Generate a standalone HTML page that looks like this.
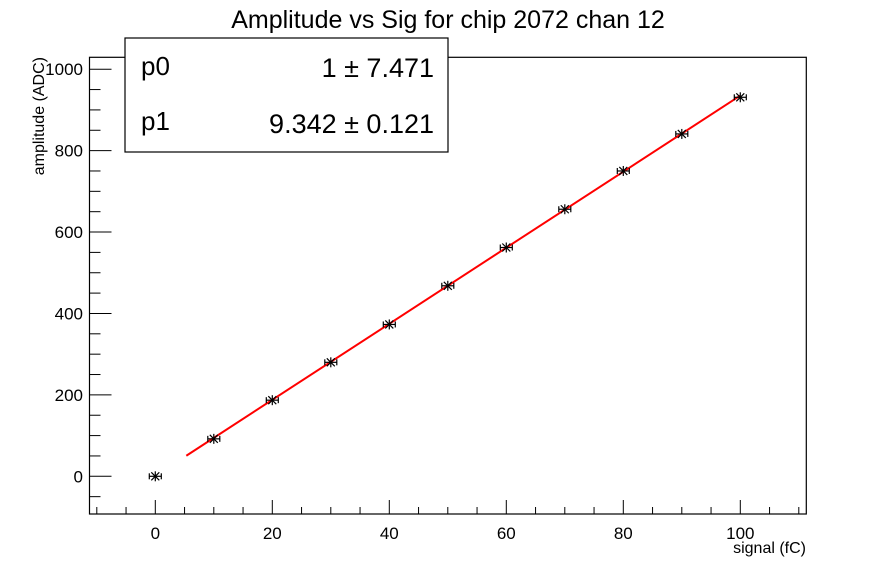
<!DOCTYPE html>
<html><head><meta charset="utf-8"><style>
body{margin:0;background:#fff;}
svg text{font-family:"Liberation Sans",sans-serif;}
</style></head><body>
<svg id="c" width="896" height="572" xmlns="http://www.w3.org/2000/svg"></svg>
<script>
const xs=[0,10,20,30,40,50,60,70,80,90,100];
const ys=[0,92,187,280,373,468,562,656,750,841,931];
const xTicks=[0,20,40,60,80,100];
const yTicks=[0,200,400,600,800,1000];
const p0=1, p1=9.342;
const fitRange=[5.3,100];
const NS="http://www.w3.org/2000/svg";
const svg=document.getElementById('c');
const L=89.5,R=806.3,T=57.3,B=514;
const xmin=-11.2,xmax=111.4,ymin=-92,ymax=1030;
const X=v=>155.3+(v-0)*(740.3-155.3)/100;
const Y=v=>476.3-v*0.4071;
function mk(t,a,name,parent){const e=document.createElementNS(NS,t);for(const k in a)e.setAttribute(k,a[k]);


(parent||svg).appendChild(e);return e;}
mk('text',{x:448,y:28,'font-size':25,'text-anchor':'middle'},'chart-title').textContent='Amplitude vs Sig for chip 2072 chan 12';
mk('rect',{x:L,y:T,width:R-L,height:B-T,fill:'none',stroke:'#000','stroke-width':1.2},'plot-frame');
// x ticks
for(let v=-10;v<=110;v+=5){const maj=v%20===0;mk('line',{x1:X(v),x2:X(v),y1:B,y2:B-(maj?14:7),stroke:'#000'},'x-tick');}
xTicks.forEach(v=>{mk('text',{x:X(v),y:539,'font-size':17,'text-anchor':'middle'},'x-tick-label').textContent=v;});
// y ticks
for(let v=-50;v<=1000;v+=50){const maj=v%200===0;mk('line',{x1:L,x2:L+(maj?22:11),y1:Y(v),y2:Y(v),stroke:'#000'},'y-tick');}
yTicks.forEach(v=>{mk('text',{x:83,y:Y(v)+6,'font-size':17,'text-anchor':'end'},'y-tick-label').textContent=v;});
mk('text',{x:806,y:553,'font-size':16,'text-anchor':'end'},'x-axis-title').textContent='signal (fC)';
mk('text',{x:44,y:57,'font-size':16,'text-anchor':'end',transform:'rotate(-90 44 57)'},'y-axis-title').textContent='amplitude (ADC)';
// fit
mk('line',{x1:X(fitRange[0]),y1:Y(p0+p1*fitRange[0]),x2:X(fitRange[1]),y2:Y(p0+p1*fitRange[1]),stroke:'#f00','stroke-width':2},'fit-line');
// points
xs.forEach((v,i)=>{const cx=X(v),cy=Y(ys[i]);const g=mk('g',{stroke:'#000','stroke-width':1.2},'data-point');
mk('line',{x1:cx-6,x2:cx+6,y1:cy,y2:cy},'error-bar',g);
mk('line',{x1:cx-6,x2:cx-6,y1:cy-3,y2:cy+3},'error-cap',g);
mk('line',{x1:cx+6,x2:cx+6,y1:cy-3,y2:cy+3},'error-cap',g);
mk('line',{x1:cx,x2:cx,y1:cy-5,y2:cy+5},'marker',g);
mk('line',{x1:cx-4,x2:cx+4,y1:cy-4,y2:cy+4},'marker',g);
mk('line',{x1:cx-4,x2:cx+4,y1:cy+4,y2:cy-4},'marker',g);});
// stats box
mk('rect',{x:125,y:38,width:323,height:114,fill:'#fff',stroke:'#000','stroke-width':1.2},'stats-box');
mk('text',{x:141,y:75,'font-size':26},'stat-name').textContent='p0';
mk('text',{x:434,y:77,'font-size':27,'text-anchor':'end'},'stat-value').textContent='1 \u00b1 7.471';
mk('text',{x:141,y:130,'font-size':26},'stat-name').textContent='p1';
mk('text',{x:434,y:133,'font-size':27,'text-anchor':'end'},'stat-value').textContent='9.342 \u00b1 0.121';
</script></body></html>
